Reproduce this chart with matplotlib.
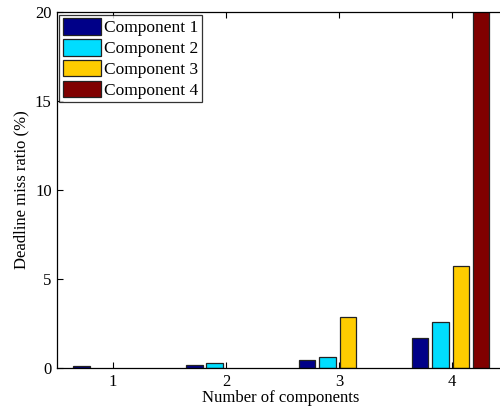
import numpy as np
import matplotlib.pyplot as plt

plt.rcParams['font.family'] = ['Liberation Serif', 'DejaVu Serif']

groups = [1, 2, 3, 4]
series_names = ['Component 1', 'Component 2', 'Component 3', 'Component 4']
# miss ratio (%) per component, indexed by number of components (nan = component absent)
comp1 = [0.07, 0.12, 0.45, 1.68]
comp2 = [np.nan, 0.23, 0.60, 2.57]
comp3 = [np.nan, np.nan, 2.84, 5.72]
comp4 = [np.nan, np.nan, np.nan, 22.0]
colors = ['#000088', '#00DDFF', '#FFCC00', '#800000']

fig = plt.figure(figsize=(5.0, 4.12), dpi=100)
# axis runs slightly past the right edge of the figure
ax = fig.add_axes([0.113, 0.108, 0.897, 0.863])

offsets = [-0.28, -0.10, 0.08, 0.26]
width = 0.145
x = np.array(groups, dtype=float)
for vals, off, c, name in zip([comp1, comp2, comp3, comp4], offsets, colors, series_names):
    ax.bar(x + off, vals, width, color=c, edgecolor='#222222', linewidth=0.9, label=name)

ax.set_xlim(0.5, 4.47)
ax.set_ylim(0, 20)
ax.set_xticks(groups)
ax.set_yticks([0, 5, 10, 15, 20])
ax.tick_params(direction='in', length=4, labelsize=12, top=True, right=False, width=0.8)
ax.tick_params(axis='x', pad=5)
ax.spines['right'].set_visible(False)
for s in ['left', 'bottom', 'top']:
    ax.spines[s].set_linewidth(0.9)

ax.set_xlabel('Number of components', fontsize=12, labelpad=0)
ax.set_ylabel('Deadline miss ratio (%)', fontsize=12, labelpad=4)

leg = ax.legend(loc='upper left', bbox_to_anchor=(0.0, 1.0), fontsize=12.5,
                frameon=True, fancybox=False, edgecolor='black',
                handlelength=2.2, handleheight=1.1, handletextpad=0.2,
                labelspacing=0.15, borderpad=0.2, borderaxespad=0.15)
leg.get_frame().set_linewidth(0.9)

fig.savefig('out.png', dpi=100)
